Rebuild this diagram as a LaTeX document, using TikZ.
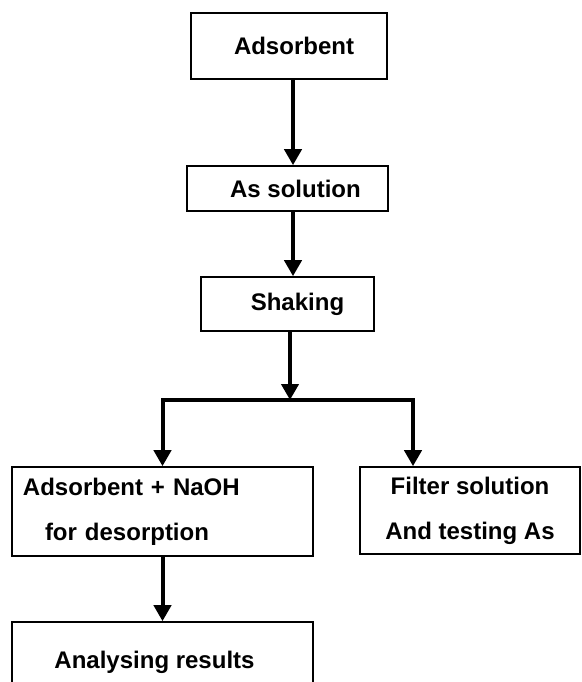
\documentclass[tikz,border=0pt]{standalone}
\usepackage{fontspec}
\setmainfont{Liberation Sans}
\usetikzlibrary{arrows.meta,positioning,calc}

\begin{document}
\begin{tikzpicture}
[x=1pt, y=-1pt, every node/.style={font=\fontsize{24}{45}\selectfont\bfseries},
box/.style ={rectangle, draw=black, line width=1.6pt, inner sep=0pt, align=center},
flow/.style={line width=4pt, >={Triangle[width=17pt,length=16pt]}, ->, line join=miter}]
\clip (0,0) rectangle (581,682);
\node[box, minimum width=196pt, minimum height=66pt] (ads) at (289,46) {\hspace*{10pt}Adsorbent};
\node[box, minimum width=201pt, minimum height=45pt] (sol) at (287.5,188.5) {\hspace*{16pt}As solution};
\node[box, minimum width=173pt, minimum height=54pt] (shk) at (287.5,304) {\hspace*{20pt}Shaking};
\node[box, minimum width=301pt, minimum height=89pt, text width=279pt, align=left] (des) at (162.5,511.5)
{Adsorbent + NaOH\\\hspace*{22pt}for desorption};
\node[box, minimum width=220pt, minimum height=87pt] (fil) at (470,510.5) {Filter solution\\And testing As};
\node[box, minimum width=301pt, minimum height=80pt] (res) at (162.5,662) {Analysing results\hspace*{16pt}};
% main line
\coordinate (spine) at (293,0);
\draw[flow] (ads.south -| spine) -- (sol.north -| spine);
\draw[flow] (sol.south -| spine) -- (shk.north -| spine);
% split into two branches
\coordinate (split) at (290,400);
\coordinate (right) at (413,400);
\draw[flow] (shk.south -| split) -- (split);
\draw[flow,<->] (des.north) |- (right) -- (right |- fil.north);
\draw[flow] (des) -- (res);
\end{tikzpicture}
\end{document}
